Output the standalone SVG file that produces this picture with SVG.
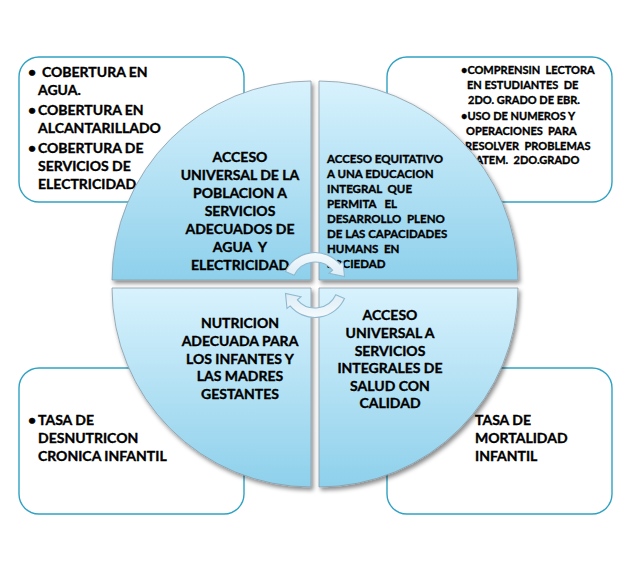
<svg xmlns="http://www.w3.org/2000/svg" width="624" height="564" viewBox="0 0 624 564">
<style>
.box{fill:#fff;stroke:#2fa2c2;stroke-width:1.4}
.q{fill:url(#qg);stroke:#8a9aa4;stroke-width:0.8;filter:url(#sh)}
.t{font-family:Lato,"Open Sans",sans-serif;font-weight:bold;fill:#000;stroke:#000;stroke-width:0.35;white-space:pre}
.c{text-anchor:middle;font-size:14px}
.l{font-size:14px}
.s{font-size:11.5px}
.xs{font-size:11px}
.arr{fill:url(#ag);stroke:#8fb8cf;stroke-width:1.1}
</style>
<defs>
<linearGradient id="qg" x1="0" y1="0" x2="0" y2="1">
<stop offset="0" stop-color="#d8f2fd"/>
<stop offset="1" stop-color="#8ed0eb"/>
</linearGradient>
<linearGradient id="ag" x1="0" y1="0" x2="0" y2="1">
<stop offset="0" stop-color="#f4fafd"/>
<stop offset="1" stop-color="#dcecf5"/>
</linearGradient>
<filter id="sh" x="-10%" y="-10%" width="125%" height="125%">
<feDropShadow dx="2" dy="3" stdDeviation="2" flood-color="#000" flood-opacity="0.45"/>
</filter>
</defs>

<g id="box-tl">
<rect class="box" x="19" y="57" width="225" height="145" rx="20"/>
<text class="t l" x="28" y="77">•</text>
<text class="t l" x="42" y="77">COBERTURA EN</text>
<text class="t l" x="38" y="95">AGUA.</text>
<text class="t l" x="28" y="115">•</text>
<text class="t l" x="38" y="115">COBERTURA EN</text>
<text class="t l" x="38" y="133">ALCANTARILLADO</text>
<text class="t l" x="28" y="153">•</text>
<text class="t l" x="38" y="153">COBERTURA DE</text>
<text class="t l" x="38" y="171">SERVICIOS DE</text>
<text class="t l" x="38" y="189">ELECTRICIDAD</text>
</g>

<g id="box-tr">
<rect class="box" x="387" y="57" width="225" height="145" rx="20"/>
<text class="t xs" x="461" y="74">•COMPRENSIN  LECTORA</text>
<text class="t xs" x="467" y="89">EN ESTUDIANTES  DE</text>
<text class="t xs" x="468" y="104">2DO. GRADO DE EBR.</text>
<text class="t xs" x="461" y="120">•USO DE NUMEROS Y</text>
<text class="t xs" x="466" y="135">OPERACIONES  PARA</text>
<text class="t xs" x="465" y="150">RESOLVER  PROBLEMAS</text>
<text class="t xs" x="465" y="164">MATEM.  2DO.GRADO</text>
</g>

<g id="box-bl">
<rect class="box" x="19" y="368" width="225" height="146" rx="20"/>
<text class="t l" x="28" y="425">•</text>
<text class="t l" x="38" y="425">TASA DE</text>
<text class="t l" x="38" y="443">DESNUTRICON</text>
<text class="t l" x="38" y="461">CRONICA INFANTIL</text>
</g>

<g id="box-br">
<rect class="box" x="387" y="368" width="225" height="146" rx="20"/>
<text class="t l" x="475" y="425">TASA DE</text>
<text class="t l" x="475" y="443">MORTALIDAD</text>
<text class="t l" x="475" y="461">INFANTIL</text>
</g>

<g id="q-tl">
<path class="q" d="M311,280 L112,280 A199,199 0 0 1 311,81 Z"/>
<text class="t c" x="240" y="162">ACCESO</text>
<text class="t c" x="240" y="180">UNIVERSAL DE LA</text>
<text class="t c" x="240" y="198">POBLACION A</text>
<text class="t c" x="240" y="216">SERVICIOS</text>
<text class="t c" x="240" y="234">ADECUADOS DE</text>
<text class="t c" x="240" y="252">AGUA  Y</text>
<text class="t c" x="240" y="270">ELECTRICIDAD</text>
</g>

<g id="q-tr">
<path class="q" d="M319,280 L319,81 A199,199 0 0 1 518,280 Z"/>
<text class="t s" x="327" y="163">ACCESO EQUITATIVO</text>
<text class="t s" x="327" y="178">A UNA EDUCACION</text>
<text class="t s" x="327" y="193">INTEGRAL  QUE</text>
<text class="t s" x="327" y="208">PERMITA   EL</text>
<text class="t s" x="327" y="223">DESARROLLO  PLENO</text>
<text class="t s" x="327" y="238">DE LAS CAPACIDADES</text>
<text class="t s" x="327" y="253">HUMANS  EN</text>
<text class="t s" x="327" y="268">SOCIEDAD</text>
</g>

<g id="q-bl">
<path class="q" d="M311,288 L311,487 A199,199 0 0 1 112,288 Z"/>
<text class="t c" x="240" y="328">NUTRICION</text>
<text class="t c" x="240" y="346">ADECUADA PARA</text>
<text class="t c" x="240" y="364">LOS INFANTES Y</text>
<text class="t c" x="240" y="381">LAS MADRES</text>
<text class="t c" x="240" y="399">GESTANTES</text>
</g>

<g id="q-br">
<path class="q" d="M319,288 L518,288 A199,199 0 0 1 319,487 Z"/>
<text class="t c" x="390" y="320">ACCESO</text>
<text class="t c" x="390" y="338">UNIVERSAL A</text>
<text class="t c" x="390" y="356">SERVICIOS</text>
<text class="t c" x="390" y="373">INTEGRALES DE</text>
<text class="t c" x="390" y="391">SALUD CON</text>
<text class="t c" x="390" y="408">CALIDAD</text>
</g>

<g id="connectors">
<path id="arrow-top" class="arr" d="M294.2,275.3 L285.5,271.5 A32.5,32.5 0 0 1 339.9,264.1 L343,261.5 L344.5,276.5 L329,273.3 L332.6,270.2 A23,23 0 0 0 294.2,275.3 Z"/>
<path id="arrow-bottom" class="arr" transform="rotate(180 315 285)" d="M294.2,275.3 L285.5,271.5 A32.5,32.5 0 0 1 339.9,264.1 L343,261.5 L344.5,276.5 L329,273.3 L332.6,270.2 A23,23 0 0 0 294.2,275.3 Z"/>
</g>
</svg>
